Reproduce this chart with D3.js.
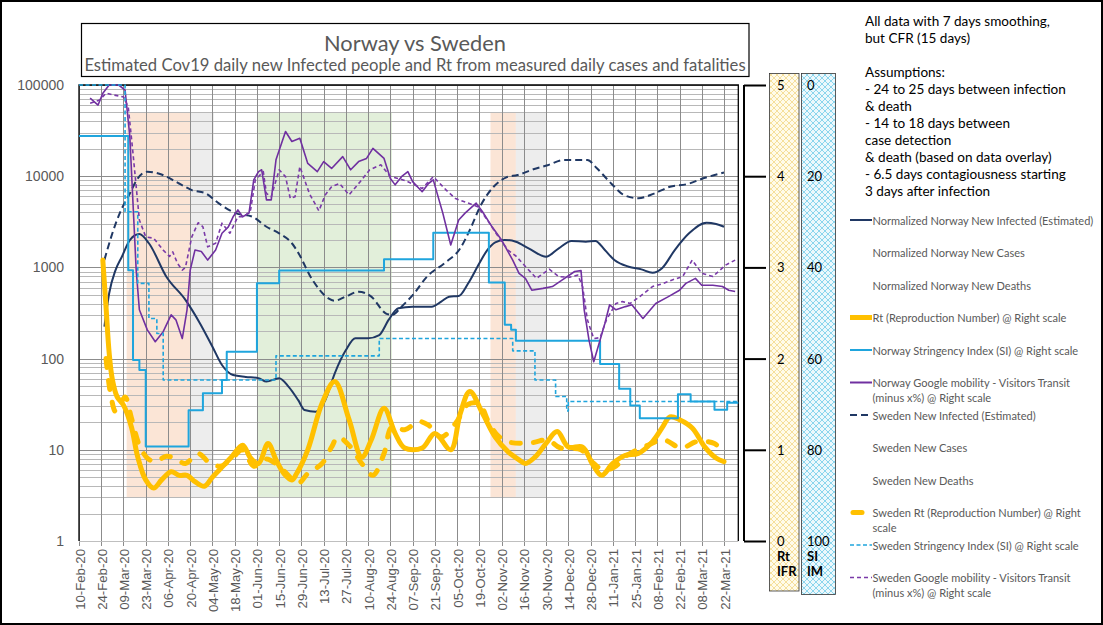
<!DOCTYPE html>
<html><head><meta charset="utf-8">
<script src="https://cdn.jsdelivr.net/npm/d3@7"></script>
<style>body{margin:0;background:#fff}svg{display:block}</style>
</head><body><svg id="c" width="1103" height="625"></svg>
<script>
// ---------------- DATA ----------------
const tickLabels = ["10-Feb-20","24-Feb-20","09-Mar-20","23-Mar-20","06-Apr-20","20-Apr-20","04-May-20","18-May-20","01-Jun-20","15-Jun-20","29-Jun-20","13-Jul-20","27-Jul-20","10-Aug-20","24-Aug-20","07-Sep-20","21-Sep-20","05-Oct-20","19-Oct-20","02-Nov-20","16-Nov-20","30-Nov-20","14-Dec-20","28-Dec-20","11-Jan-21","25-Jan-21","08-Feb-21","22-Feb-21","08-Mar-21","22-Mar-21"];
const xDomain = ["10-Feb-20","31-Mar-21"];
const leftTicks = [1,10,100,1000,10000,100000];
const rtTicks = [0,1,2,3,4,5];
const siTicks = [0,20,40,60,80,100];

const shadePeriods = [
  ["2020-03-11","2020-04-20","peach"],
  ["2020-04-20","2020-05-05","grey"],
  ["2020-06-01","2020-08-25","green"],
  ["2020-10-26","2020-11-11","peach"],
  ["2020-11-11","2020-11-30","grey"]
];
const shadeRange = [3, 50000];

const norwayInfected = [["2020-02-26",224],["2020-02-29",520],["2020-03-04",935],["2020-03-08",1310],["2020-03-13",1995],["2020-03-19",2320],["2020-03-25",1840],["2020-04-05",791],["2020-04-17",440],["2020-04-26",246],["2020-05-04",135],["2020-05-10",85],["2020-05-17",66],["2020-05-25",63],["2020-06-02",61],["2020-06-07",56],["2020-06-15",61],["2020-06-21",49],["2020-06-27",35],["2020-07-01",27.3],["2020-07-08",26.2],["2020-07-14",35],["2020-07-20",69],["2020-07-27",124],["2020-08-02",167],["2020-08-10",167],["2020-08-17",181],["2020-08-23",267],["2020-08-29",356],["2020-09-07",371],["2020-09-19",371],["2020-09-25",421],["2020-09-30",478],["2020-10-06",486],["2020-10-12",670],["2020-10-19",1110],["2020-10-24",1550],["2020-10-29",1885],["2020-11-04",2000],["2020-11-11",1910],["2020-11-19",1620],["2020-11-30",1310],["2020-12-08",1620],["2020-12-16",1950],["2020-12-25",1910],["2020-12-31",1950],["2021-01-06",1550],["2021-01-12",1205],["2021-01-21",1018],["2021-01-29",952],["2021-02-05",875],["2021-02-11",980],["2021-02-19",1550],["2021-02-28",2365],["2021-03-11",3090],["2021-03-17",2990],["2021-03-22",2790]];

const swedenInfected = [["2020-02-26",1210],["2020-03-02",2365],["2020-03-07",4070],["2020-03-13",6450],["2020-03-18",9480],["2020-03-24",11200],["2020-03-31",10720],["2020-04-13",8320],["2020-04-21",7040],["2020-04-30",6450],["2020-05-08",5030],["2020-05-19",3910],["2020-05-29",3600],["2020-06-07",2790],["2020-06-15",2365],["2020-06-23",1840],["2020-06-26",1550],["2020-07-06",727],["2020-07-16",458],["2020-07-20",431],["2020-07-27",480],["2020-08-04",542],["2020-08-12",478],["2020-08-21",314],["2020-08-25",301],["2020-08-31",371],["2020-09-08",520],["2020-09-16",791],["2020-09-27",1110],["2020-10-07",1620],["2020-10-13",2570],["2020-10-20",4830],["2020-10-28",7670],["2020-11-05",9720],["2020-11-12",10300],["2020-11-22",11900],["2020-12-01",13200],["2020-12-11",15060],["2020-12-26",15060],["2021-01-01",12200],["2021-01-10",8320],["2021-01-18",6220],["2021-01-27",5730],["2021-02-06",6450],["2021-02-16",7670],["2021-02-27",8210],["2021-03-09",9480],["2021-03-22",10960]];

const norwayRt = [["2020-02-25",3.08],["2020-02-27",2.57],["2020-02-29",2.06],["2020-03-02",1.77],["2020-03-05",1.58],["2020-03-09",1.49],["2020-03-14",1.25],["2020-03-18",0.92],["2020-03-23",0.67],["2020-03-28",0.58],["2020-04-02",0.67],["2020-04-08",0.76],["2020-04-13",0.72],["2020-04-18",0.72],["2020-04-23",0.65],["2020-04-29",0.60],["2020-05-04",0.70],["2020-05-10",0.81],["2020-05-16",0.92],["2020-05-23",1.05],["2020-05-28",0.91],["2020-06-02",0.85],["2020-06-08",1.07],["2020-06-13",0.89],["2020-06-18",0.74],["2020-06-23",0.67],["2020-06-26",0.74],["2020-07-03",1.0],["2020-07-12",1.51],["2020-07-20",1.75],["2020-07-29",1.33],["2020-08-06",0.92],["2020-08-12",1.11],["2020-08-20",1.455],["2020-08-27",1.18],["2020-09-02",1.02],["2020-09-13",1.02],["2020-09-21",1.18],["2020-10-01",1.0],["2020-10-07",1.40],["2020-10-13",1.64],["2020-10-21",1.40],["2020-10-29",1.14],["2020-11-06",0.98],["2020-11-13",0.89],["2020-11-17",0.85],["2020-11-23",0.92],["2020-11-30",1.07],["2020-12-07",1.20],["2020-12-14",1.03],["2020-12-23",1.03],["2020-12-29",0.85],["2021-01-04",0.72],["2021-01-11",0.85],["2021-01-19",0.94],["2021-01-27",0.96],["2021-02-05",1.09],["2021-02-11",1.24],["2021-02-16",1.36],["2021-02-22",1.33],["2021-03-02",1.24],["2021-03-10",1.03],["2021-03-17",0.91],["2021-03-22",0.87]];

const swedenRt = [["2020-02-27",2.0],["2020-03-01",1.6],["2020-03-04",1.42],["2020-03-07",1.5],["2020-03-10",1.58],["2020-03-14",1.35],["2020-03-19",1.05],["2020-03-24",0.91],["2020-03-29",0.87],["2020-04-05",0.93],["2020-04-11",0.90],["2020-04-17",0.85],["2020-04-25",0.96],["2020-05-02",0.86],["2020-05-09",0.82],["2020-05-16",0.90],["2020-05-23",1.0],["2020-05-30",0.82],["2020-06-07",0.90],["2020-06-16",0.80],["2020-06-23",0.68],["2020-06-27",0.63],["2020-07-03",0.74],["2020-07-12",0.85],["2020-07-18",1.03],["2020-07-22",1.14],["2020-07-30",1.03],["2020-08-06",0.85],["2020-08-13",0.72],["2020-08-20",0.96],["2020-08-25",1.25],["2020-09-02",1.22],["2020-09-11",1.31],["2020-09-17",1.27],["2020-09-25",1.14],["2020-10-04",1.29],["2020-10-12",1.50],["2020-10-19",1.50],["2020-10-25",1.30],["2020-10-31",1.15],["2020-11-08",1.08],["2020-11-22",1.08],["2020-12-01",1.11],["2020-12-09",1.02],["2020-12-22",1.0],["2020-12-30",0.85],["2021-01-05",0.78],["2021-01-12",0.81],["2021-01-20",0.94],["2021-02-02",1.05],["2021-02-12",1.11],["2021-02-23",1.02],["2021-03-05",1.09],["2021-03-16",1.07],["2021-03-21",0.98]];

const norwaySI = [["2020-02-10",11.2],["2020-03-12",40.6],["2020-03-15",60.3],["2020-03-19",62.5],["2020-03-23",79.3],["2020-04-19",71.3],["2020-04-28",67.6],["2020-05-10",64.7],["2020-05-13",58.5],["2020-06-01",43.5],["2020-06-15",40.7],["2020-08-20",38.2],["2020-09-20",32.4],["2020-10-25",43.3],["2020-11-04",52.6],["2020-11-08",53.7],["2020-11-11",56.1],["2021-01-03",61.2],["2021-01-15",66.6],["2021-01-22",70.3],["2021-01-28",73.1],["2021-02-21",67.8],["2021-03-01",69.4],["2021-03-16",71.2],["2021-03-24",69.7],["2021-03-31",69.7]];

const swedenSI = [["2020-02-10",0],["2020-03-10",27.8],["2020-03-18",43.5],["2020-03-25",51.2],["2020-03-30",54.5],["2020-04-03",64.7],["2020-06-13",59.4],["2020-08-17",55.6],["2020-11-09",58.3],["2020-11-23",64.7],["2020-12-06",68.3],["2020-12-13",71.5],["2020-12-14",69.4],["2021-03-31",69.4]];

const norwayMobility = [["2020-02-17",2.9],["2020-02-22",4.4],["2020-02-25",1.8],["2020-02-29",0],["2020-03-06",0],["2020-03-10",1.1],["2020-03-13",11.3],["2020-03-15",26],["2020-03-17",40.6],["2020-03-19",49.3],["2020-03-24",53.7],["2020-03-29",56.3],["2020-04-03",54.1],["2020-04-08",50.4],["2020-04-11",51.5],["2020-04-15",55.6],["2020-04-18",49.3],["2020-04-20",40.6],["2020-04-23",36.2],["2020-04-27",36.5],["2020-05-01",38.4],["2020-05-06",36.2],["2020-05-10",32.5],["2020-05-14",31.1],["2020-05-17",28.9],["2020-05-20",27.4],["2020-05-23",28.9],["2020-05-27",28.1],["2020-05-30",20.8],["2020-06-02",19.0],["2020-06-04",18.6],["2020-06-07",25.2],["2020-06-10",25.2],["2020-06-13",16.4],["2020-06-19",10.2],["2020-06-23",12.4],["2020-06-28",11.7],["2020-07-03",17.2],["2020-07-09",19.0],["2020-07-13",16.8],["2020-07-18",18.3],["2020-07-25",15.7],["2020-07-30",18.6],["2020-08-04",16.8],["2020-08-09",16.1],["2020-08-13",13.9],["2020-08-20",16.1],["2020-08-24",20.5],["2020-08-27",21.9],["2020-08-31",20.1],["2020-09-04",19.0],["2020-09-07",21.2],["2020-09-13",23.4],["2020-09-17",21.6],["2020-09-20",20.8],["2020-09-26",28.1],["2020-10-01",35.1],["2020-10-06",29.6],["2020-10-10",28.1],["2020-10-17",25.9],["2020-10-21",27.8],["2020-10-27",31.1],["2020-11-02",34.0],["2020-11-09",38.4],["2020-11-13",41.3],["2020-11-17",42.4],["2020-11-21",45],["2020-11-28",44.6],["2020-12-04",44.2],["2020-12-10",42.8],["2020-12-18",40.9],["2020-12-22",40.7],["2020-12-24",49.3],["2020-12-27",55.9],["2020-12-30",60.7],["2021-01-03",55.9],["2021-01-06",52.3],["2021-01-09",48.2],["2021-01-13",49.3],["2021-01-19",48.6],["2021-01-23",48.2],["2021-01-30",51.2],["2021-02-07",47.9],["2021-02-15",46.4],["2021-02-22",45],["2021-02-26",43.5],["2021-03-04",42.4],["2021-03-08",43.9],["2021-03-15",43.9],["2021-03-21",44.2],["2021-03-25",45],["2021-03-29",45.3]];

const swedenMobility = [["2020-02-17",4.0],["2020-02-23",3.3],["2020-02-27",1.8],["2020-03-03",2.2],["2020-03-09",2.6],["2020-03-12",4.8],["2020-03-15",15],["2020-03-19",29.6],["2020-03-23",33.3],["2020-03-28",33.6],["2020-04-03",36.2],["2020-04-07",37.6],["2020-04-09",36.6],["2020-04-12",39.1],["2020-04-15",40.6],["2020-04-17",40.0],["2020-04-21",33.3],["2020-04-25",30.2],["2020-04-28",31.1],["2020-05-01",35.5],["2020-05-06",34.7],["2020-05-10",30.3],["2020-05-15",32.5],["2020-05-20",28.9],["2020-05-24",28.9],["2020-05-28",27.4],["2020-05-31",20.8],["2020-06-05",19.0],["2020-06-07",23.8],["2020-06-10",24.5],["2020-06-15",18.6],["2020-06-19",20.1],["2020-06-22",24.9],["2020-06-25",24.5],["2020-06-28",17.9],["2020-07-01",20.8],["2020-07-04",23.8],["2020-07-10",27.6],["2020-07-14",24.1],["2020-07-18",22.3],["2020-07-23",21.6],["2020-07-29",24.1],["2020-08-05",21.2],["2020-08-11",18.6],["2020-08-18",17.5],["2020-08-24",20.1],["2020-08-29",20.5],["2020-09-04",21.2],["2020-09-13",22.7],["2020-09-20",20.1],["2020-09-28",23.0],["2020-10-04",24.9],["2020-10-12",25.9],["2020-10-18",26.7],["2020-10-24",29.6],["2020-10-31",33.3],["2020-11-06",36.2],["2020-11-11",37.5],["2020-11-17",39.8],["2020-11-24",42.4],["2020-12-02",40.4],["2020-12-08",42.0],["2020-12-14",42.2],["2020-12-20",41.7],["2020-12-23",44.2],["2020-12-26",51.5],["2020-12-30",55.6],["2021-01-03",55.4],["2021-01-07",51.5],["2021-01-13",47.9],["2021-01-17",47.5],["2021-01-22",47.9],["2021-01-28",46.4],["2021-02-05",44.2],["2021-02-11",43.6],["2021-02-17",42.8],["2021-02-24",42.0],["2021-03-02",38.4],["2021-03-08",41.3],["2021-03-15",42.0],["2021-03-23",39.5],["2021-03-29",38.4]];

const titleText = "Norway vs Sweden";
const subtitleText = "Estimated Cov19 daily new Infected people and Rt from measured daily cases and fatalities";
const notes = ["All data with 7 days smoothing,","but CFR (15 days)","","Assumptions:","- 24 to 25 days between infection","& death","- 14 to 18 days between","case detection","& death (based on data overlay)","- 6.5 days contagiousness starting","3 days after infection"];
const legendLabels = [
  ["Normalized Norway New Infected (Estimated)"],
  ["Normalized Norway New Cases"],
  ["Normalized Norway New Deaths"],
  ["Rt (Reproduction Number) @ Right scale"],
  ["Norway Stringency  Index (SI) @ Right scale"],
  ["Norway Google mobility - Visitors Transit","(minus x%) @ Right scale"],
  ["Sweden New Infected (Estimated)"],
  ["Sweden New Cases"],
  ["Sweden New Deaths"],
  ["Sweden Rt (Reproduction Number) @ Right","scale"],
  ["Sweden Stringency  Index (SI) @ Right scale"],
  ["Sweden Google mobility - Visitors Transit","(minus x%) @ Right scale"]
];
const rtColLabels = ["Rt","IFR"];
const siColLabels = ["SI","IM"];

// ---------------- SETUP ----------------
const svg = d3.select("#c");
const W = 1103, H = 625;
const P = {l:79, r:738.3, t:85, b:541};
const iso = d3.timeParse("%Y-%m-%d");
const tp = d3.timeParse("%d-%b-%y");
const x = d3.scaleTime().domain(xDomain.map(tp)).range([P.l, P.r]);
const yLog = d3.scaleLog().domain([1,100000]).range([P.b, P.t]);
const yRt = d3.scaleLinear().domain([0,5]).range([P.b, P.t]);
const ySI = d3.scaleLinear().domain([0,100]).range([P.t, P.b]);

const C = {navy:"#203864", yellow:"#ffc000", cyan:"#1fa5dd", purple:"#7030a0", purple2:"#7a3aa8", grid:"#8c8c8c", minor:"#b8b8b8", text:"#595959"};
const calib = "Lato, 'Open Sans', sans-serif";
const arial = "'Liberation Sans', Arial, sans-serif";

const defs = svg.append("defs");
function hatch(id, bg, fg){
  const p = defs.append("pattern").attr("id",id).attr("width",6).attr("height",6).attr("patternUnits","userSpaceOnUse");
  p.append("rect").attr("width",6).attr("height",6).attr("fill",bg);
  p.append("path").attr("d","M0,0L6,6M6,0L0,6M-1,5L1,7M5,-1L7,1").attr("stroke",fg).attr("stroke-width",0.7);
}
hatch("hy","#fffbea","#f1d27a");
hatch("hc","#ecf8fc","#62c6e6");

svg.append("rect").attr("width",W).attr("height",H).attr("fill","#fff");

// shading
const shadeFill = {peach:"#fbe5d6", grey:"#ededed", green:"#e2efda"};
svg.append("g").selectAll("rect").data(shadePeriods).join("rect")
  .attr("x", d=>x(iso(d[0]))).attr("width", d=>x(iso(d[1]))-x(iso(d[0])))
  .attr("y", yLog(shadeRange[1])).attr("height", yLog(shadeRange[0])-yLog(shadeRange[1]))
  .attr("fill", d=>shadeFill[d[2]]);

// gridlines
const grid = svg.append("g");
const minorVals = [];
for (let e=0;e<5;e++) for (let m=2;m<=9;m++) minorVals.push(m*Math.pow(10,e));
grid.selectAll(".mn").data(minorVals).join("line")
  .attr("x1",P.l).attr("x2",P.r).attr("y1",d=>Math.round(yLog(d))+0.5).attr("y2",d=>Math.round(yLog(d))+0.5)
  .attr("stroke",C.minor).attr("stroke-width",1);
grid.selectAll(".mj").data(leftTicks.slice(1)).join("line")
  .attr("x1",P.l).attr("x2",P.r).attr("y1",d=>Math.round(yLog(d))+0.5).attr("y2",d=>Math.round(yLog(d))+0.5)
  .attr("stroke",C.grid).attr("stroke-width",1);
const tickDates = tickLabels.map(tp);
grid.selectAll(".v").data(tickDates).join("line")
  .attr("x1",d=>Math.round(x(d))+0.5).attr("x2",d=>Math.round(x(d))+0.5).attr("y1",P.t).attr("y2",P.b+5)
  .attr("stroke",C.grid).attr("stroke-width",1);
svg.append("line").attr("x1",P.l).attr("x2",P.r).attr("y1",P.b+0.5).attr("y2",P.b+0.5).attr("stroke","#bfbfbf");
svg.append("path").attr("d",`M${P.l},${P.b}V${P.t}H${P.r}V${P.b}`).attr("fill","none").attr("stroke","#000").attr("stroke-width",1.3);

// x labels
svg.append("g").selectAll("text").data(tickDates).join("text")
  .attr("transform", d=>`translate(${x(d)+1},${P.b+8}) rotate(-90)`)
  .attr("text-anchor","end").attr("dominant-baseline","central")
  .attr("font-family",arial).attr("font-size",13.2).attr("fill",C.text)
  .text((d,i)=>tickLabels[i]);
// y labels
svg.append("g").selectAll("text").data(leftTicks).join("text")
  .attr("x",64).attr("y",d=>yLog(d)).attr("text-anchor","end").attr("dominant-baseline","central")
  .attr("font-family",arial).attr("font-size",14).attr("fill",C.text).text(d=>d);

// ---------------- SERIES ----------------
const plot = svg.append("g");
const pt = d=>x(iso(d[0]));
const lineLog = d3.line().x(pt).y(d=>yLog(d[1])).curve(d3.curveMonotoneX);
const lineRt = d3.line().x(pt).y(d=>yRt(d[1])).curve(d3.curveCatmullRom.alpha(0.5));
const lineSI = d3.line().x(pt).y(d=>ySI(d[1])).curve(d3.curveStepAfter);
const lineMob = d3.line().x(pt).y(d=>ySI(d[1])).curve(d3.curveLinear);

function draw(data, gen, color, width, dash, cap){
  plot.append("path").datum(data).attr("d",gen).attr("fill","none")
    .attr("stroke",color).attr("stroke-width",width)
    .attr("stroke-dasharray",dash||null).attr("stroke-linecap",cap||"butt").attr("stroke-linejoin","round");
}
draw(norwayInfected, lineLog, C.navy, 2);
draw(swedenInfected, lineLog, C.navy, 2, "7,4");
draw(norwayRt, lineRt, C.yellow, 5, null, "round");
draw(norwaySI, lineSI, C.cyan, 2);
draw(norwayMobility, lineMob, C.purple, 1.6);
draw(swedenRt, lineRt, C.yellow, 5, "9,13", "round");
draw(swedenSI, lineSI, C.cyan, 1.6, "4,2.5");
draw(swedenMobility, lineMob, C.purple2, 1.6, "4,3");

// ---------------- RIGHT AXIS & COLUMNS ----------------
const axR = svg.append("g").attr("transform","translate(744,0)")
  .call(d3.axisRight(yRt).tickValues(rtTicks).tickSize(22).tickFormat(""));
axR.select(".domain").attr("stroke","#000").attr("stroke-width",2).attr("d",`M0,${yRt(5)}V${yRt(0)}`);
axR.selectAll(".tick line").attr("stroke","#000").attr("stroke-width",2);

svg.append("rect").attr("x",769.5).attr("y",73.5).attr("width",29.5).attr("height",517.5).attr("fill","url(#hy)").attr("stroke","#333").attr("stroke-width",0.8);
svg.append("rect").attr("x",801.5).attr("y",73.5).attr("width",34).attr("height",521).attr("fill","url(#hc)").attr("stroke","#333").attr("stroke-width",0.8);
svg.append("g").selectAll("text").data(rtTicks).join("text")
  .attr("x",777).attr("y",d=>yRt(d)).attr("dominant-baseline","central")
  .attr("font-family",calib).attr("font-size",13).attr("fill","#000").text(d=>d);
svg.append("g").selectAll("text").data(siTicks).join("text")
  .attr("x",807).attr("y",d=>ySI(d)).attr("dominant-baseline","central")
  .attr("font-family",calib).attr("font-size",13).attr("fill","#000").text(d=>d);
svg.append("g").selectAll("text").data(rtColLabels).join("text")
  .attr("x",777).attr("y",(d,i)=>556+i*15).attr("dominant-baseline","central")
  .attr("font-family",calib).attr("font-size",13).attr("font-weight","bold").attr("fill","#000").text(d=>d);
svg.append("g").selectAll("text").data(siColLabels).join("text")
  .attr("x",807).attr("y",(d,i)=>556+i*15).attr("dominant-baseline","central")
  .attr("font-family",calib).attr("font-size",13).attr("font-weight","bold").attr("fill","#000").text(d=>d);

// ---------------- TITLE ----------------
svg.append("rect").attr("x",81.5).attr("y",23.5).attr("width",667.5).attr("height",53).attr("fill","#fff").attr("stroke","#000").attr("stroke-width",1.2);
function fit(sel, target){ const w = sel.node().getComputedTextLength(); const fs = +sel.attr("font-size"); sel.attr("font-size", fs*target/w); }
const tt = svg.append("text").attr("x",415).attr("y",42).attr("text-anchor","middle").attr("dominant-baseline","central")
  .attr("font-family",calib).attr("font-size",20).attr("fill",C.text).text(titleText);
fit(tt,182);
const st = svg.append("text").attr("x",415).attr("y",65).attr("text-anchor","middle").attr("dominant-baseline","central")
  .attr("font-family",calib).attr("font-size",16).attr("fill",C.text).text(subtitleText);
fit(st,662);

// ---------------- NOTES ----------------
const ng = svg.append("g");
const n0 = ng.append("text").attr("font-family",calib).attr("font-size",13).text(notes[0]);
const nfs = 13*185/n0.node().getComputedTextLength();
n0.remove();
ng.selectAll("text").data(notes).join("text")
  .attr("x",865).attr("y",(d,i)=>21+i*17).attr("dominant-baseline","central")
  .attr("font-family",calib).attr("font-size",nfs).attr("fill","#000").text(d=>d);

// ---------------- LEGEND ----------------
const legendStyle = [
  {c:C.navy,w:2},null,null,
  {c:C.yellow,w:5},{c:C.cyan,w:2},{c:C.purple,w:2},
  {c:C.navy,w:2,d:"7,4"},null,null,
  {c:C.yellow,w:5,d:"9,11",cap:"round"},{c:C.cyan,w:1.6,d:"4,2.5"},{c:C.purple2,w:1.6,d:"4,3"}
];
const lg = svg.append("g");
const l0 = lg.append("text").attr("font-family",calib).attr("font-size",12).text(legendLabels[0][0]);
const lfs = 12*221/l0.node().getComputedTextLength();
l0.remove();
legendLabels.forEach((lines,i)=>{
  const y = 220 + i*32.5;
  const s = legendStyle[i];
  if (s) lg.append("line").attr("x1",s.cap?853:850).attr("x2",s.cap?869:872).attr("y1",y).attr("y2",y)
    .attr("stroke",s.c).attr("stroke-width",s.w).attr("stroke-dasharray",s.d||null).attr("stroke-linecap",s.cap||"butt");
  lines.forEach((t,j)=>lg.append("text").attr("x",872.5).attr("y",y+j*15).attr("dominant-baseline","central")
    .attr("font-family",calib).attr("font-size",lfs).attr("fill",C.text).text(t));
});

// outer frame
svg.append("rect").attr("x",1).attr("y",1).attr("width",W-2).attr("height",H-2).attr("fill","none").attr("stroke","#000").attr("stroke-width",2);
</script></body></html>
